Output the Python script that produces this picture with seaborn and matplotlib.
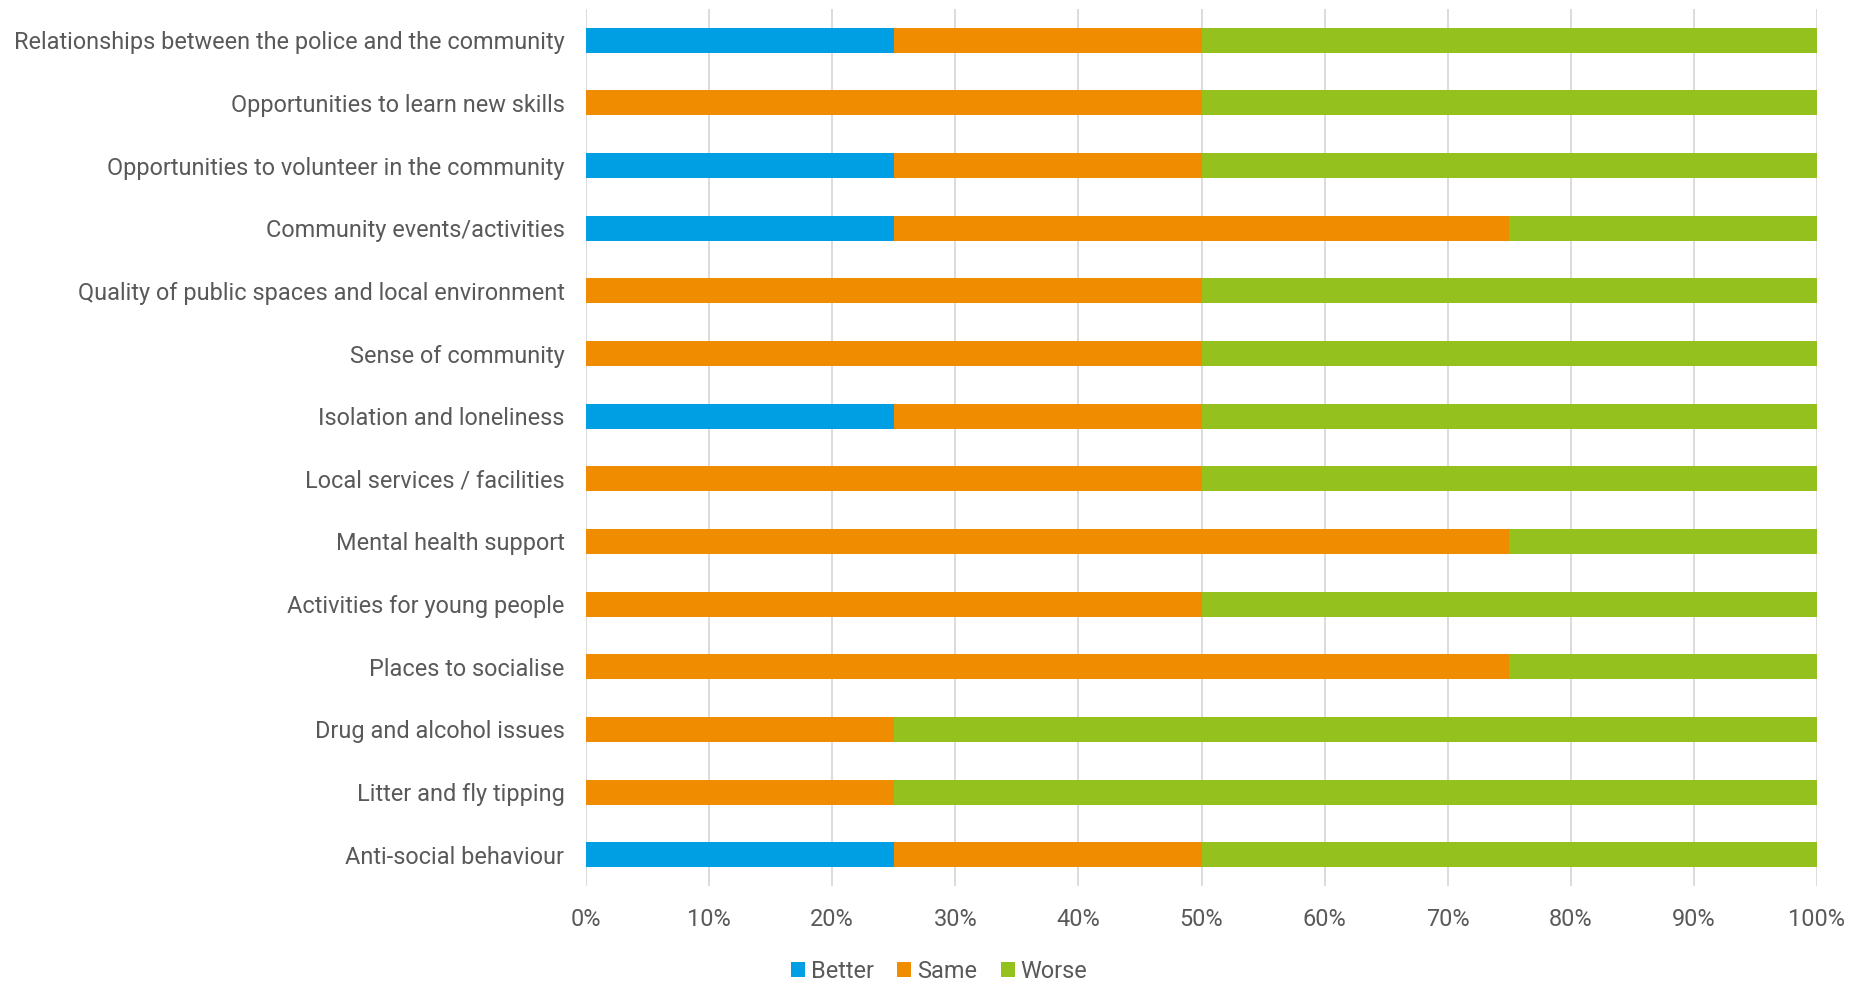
import matplotlib
matplotlib.use("Agg")
import matplotlib.pyplot as plt
import seaborn as sns
import pandas as pd
import numpy as np
from matplotlib.patches import Patch

categories = [
    "Relationships between the police and the community",
    "Opportunities to learn new skills",
    "Opportunities to volunteer in the community",
    "Community events/activities",
    "Quality of public spaces and local environment",
    "Sense of community",
    "Isolation and loneliness",
    "Local services / facilities",
    "Mental health support",
    "Activities for young people",
    "Places to socialise",
    "Drug and alcohol issues",
    "Litter and fly tipping",
    "Anti-social behaviour",
]
better = [25, 0, 25, 25, 0, 0, 25, 0, 0, 0, 0, 0, 0, 25]
same = [25, 50, 25, 50, 50, 50, 25, 50, 75, 50, 75, 25, 25, 25]
worse = [50, 50, 50, 25, 50, 50, 50, 50, 25, 50, 25, 75, 75, 50]
series_names = ["Better", "Same", "Worse"]
colors = ["#009FE3", "#F08C00", "#95C11F"]
xticks = [0, 10, 20, 30, 40, 50, 60, 70, 80, 90, 100]

sns.set_theme(style="white")
plt.rcParams["font.family"] = ["Roboto", "DejaVu Sans"]
text_color = "#595959"

df = pd.DataFrame({"category": categories, "Better": better, "Same": same, "Worse": worse})
df["c1"] = df["Better"]
df["c2"] = df["Better"] + df["Same"]
df["c3"] = df["Better"] + df["Same"] + df["Worse"]

fig = plt.figure(figsize=(18.67, 9.84), dpi=100)
ax = fig.add_axes([586 / 1867, 1 - 886 / 984, (1817 - 586) / 1867, (886 - 9) / 984])

for col, color in zip(["c3", "c2", "c1"], colors[::-1]):
    sns.barplot(data=df, x=col, y="category", order=categories, color=color,
                width=0.4, saturation=1, ax=ax, linewidth=0, orient="h")

ax.set_xlim(0, 100)
ax.set_ylim(len(categories) - 0.5, -0.5)
ax.set_xticks(xticks)
ax.set_xticklabels([f"{t}%" for t in xticks])
ax.set_xlabel("")
ax.set_ylabel("")
ax.grid(axis="x", color="#D9D9D9", linewidth=1.3)
ax.set_axisbelow(True)
for s in ax.spines.values():
    s.set_visible(False)
ax.tick_params(axis="both", length=0, labelsize=16.9, colors=text_color)
ax.tick_params(axis="x", pad=16)
ax.tick_params(axis="y", pad=15.5)

handles = [Patch(facecolor=c, edgecolor="none") for c in colors]
fig.legend(handles, series_names, loc="center", bbox_to_anchor=(0.503, 1 - 971 / 984),
           ncol=3, frameon=False, fontsize=16.9, labelcolor=text_color,
           handlelength=0.6, handleheight=0.6, handletextpad=0.25, columnspacing=1.0)

fig.savefig("out.png", dpi=100)
